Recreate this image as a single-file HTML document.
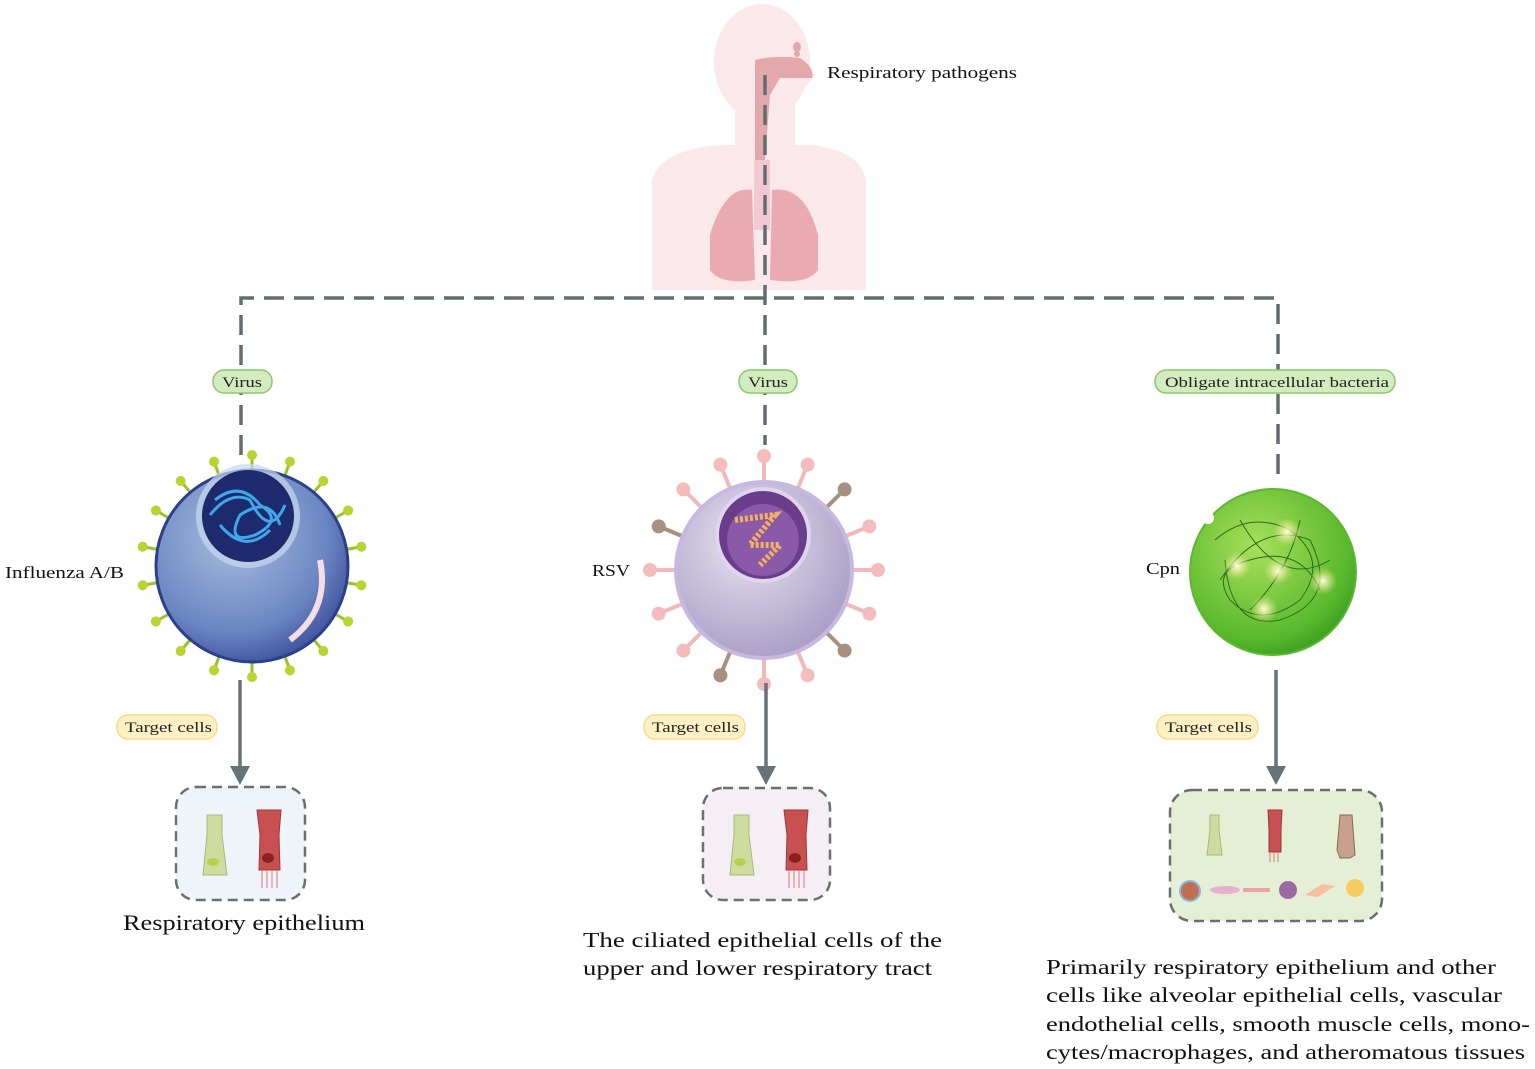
<!DOCTYPE html>
<html><head><meta charset="utf-8"><style>
body{margin:0;background:#fff;}
svg{display:block;font-family:"Liberation Serif",serif;}
</style></head><body>
<svg width="1535" height="1069" viewBox="0 0 1535 1069">
<defs>
<radialGradient id="gb" cx="40%" cy="35%" r="70%"><stop offset="0" stop-color="#a9bde0"/><stop offset="0.7" stop-color="#6b86c2"/><stop offset="1" stop-color="#3b4f9a"/></radialGradient>
<radialGradient id="gp" cx="40%" cy="35%" r="70%"><stop offset="0" stop-color="#e6e2f0"/><stop offset="1" stop-color="#a89cc4"/></radialGradient>
<radialGradient id="gg" cx="40%" cy="35%" r="70%"><stop offset="0" stop-color="#a8e05a"/><stop offset="0.8" stop-color="#58b82c"/><stop offset="1" stop-color="#3a9a20"/></radialGradient>
<radialGradient id="gy"><stop offset="0" stop-color="#fffde0"/><stop offset="1" stop-color="#f2e680" stop-opacity="0"/></radialGradient>
</defs>
<g fill="#fae8ea">
<ellipse cx="762" cy="62" rx="48" ry="58"/>
<rect x="735" y="90" width="60" height="70"/>
<path d="M652 180 Q660 150 720 145 L810 145 Q860 150 866 180 L866 290 L652 290 Z"/>
<path d="M790 55 L815 75 L795 100 L790 110 Z"/>
</g>
<g fill="#e3a8ac">
<path d="M755 60 Q775 55 800 58 Q815 68 812 78 L780 78 L770 95 L765 160 L755 160 Z"/>
<ellipse cx="797" cy="47" rx="4" ry="5"/><ellipse cx="797" cy="54" rx="3" ry="3"/>
<path d="M710 235 Q725 185 752 190 L755 280 Q720 285 710 270 Z" fill="#eaaab2"/>
<path d="M818 235 Q805 185 772 190 L770 280 Q808 285 818 270 Z" fill="#eaaab2"/>
</g>
<rect x="754" y="160" width="16" height="70" fill="#f4c8d0"/>
<text x="827" y="78" font-size="17" fill="#111" textLength="190" lengthAdjust="spacingAndGlyphs">Respiratory pathogens</text>
<g stroke="#5f6e73" stroke-width="3.5" stroke-dasharray="20 10" fill="none">
<path d="M241 455 L241 298 L1278 298 L1278 475"/>
<path d="M765 75 L765 445"/>
</g>
<g stroke="#8cc66b" stroke-width="1.5" fill="#d3ecbf">
<rect x="213" y="370" width="59" height="23" rx="11"/>
<rect x="739" y="370" width="58" height="23" rx="11"/>
<rect x="1155" y="370" width="240" height="23" rx="11"/>
</g>
<g font-size="15" fill="#222">
<text x="222" y="387" textLength="40" lengthAdjust="spacingAndGlyphs">Virus</text><text x="748" y="387" textLength="40" lengthAdjust="spacingAndGlyphs">Virus</text><text x="1165" y="387" textLength="224" lengthAdjust="spacingAndGlyphs">Obligate intracellular bacteria</text>
</g>
<g stroke="#9bc22a" stroke-width="3" fill="#b8d430">
<g id="sp">
<line x1="252" y1="566" x2="252" y2="455"/><circle cx="252" cy="455" r="5" stroke="none"/>
</g>
<use href="#sp" transform="rotate(20 252 566)"/><use href="#sp" transform="rotate(40 252 566)"/><use href="#sp" transform="rotate(60 252 566)"/><use href="#sp" transform="rotate(80 252 566)"/><use href="#sp" transform="rotate(100 252 566)"/><use href="#sp" transform="rotate(120 252 566)"/><use href="#sp" transform="rotate(140 252 566)"/><use href="#sp" transform="rotate(160 252 566)"/><use href="#sp" transform="rotate(180 252 566)"/><use href="#sp" transform="rotate(200 252 566)"/><use href="#sp" transform="rotate(220 252 566)"/><use href="#sp" transform="rotate(240 252 566)"/><use href="#sp" transform="rotate(260 252 566)"/><use href="#sp" transform="rotate(280 252 566)"/><use href="#sp" transform="rotate(300 252 566)"/><use href="#sp" transform="rotate(320 252 566)"/><use href="#sp" transform="rotate(340 252 566)"/>
</g>
<circle cx="252" cy="566" r="96" fill="url(#gb)" stroke="#2c3f8a" stroke-width="3"/>
<circle cx="248" cy="516" r="52" fill="#c9d8ec" opacity="0.7"/>
<circle cx="248" cy="516" r="46" fill="#1e2a6e"/>
<path d="M215 500 Q240 480 260 505 Q285 520 255 535 Q225 545 240 515 Q270 495 280 525 M220 525 Q245 555 270 530 M210 515 Q230 490 250 500 Q270 540 285 505" stroke="#3fa8e8" stroke-width="3" fill="none"/>
<path d="M320 560 Q330 610 290 640" stroke="#f6dce4" stroke-width="6" fill="none"/>
<text x="5" y="578" font-size="17" fill="#111" textLength="119" lengthAdjust="spacingAndGlyphs">Influenza A/B</text>
<g stroke="#f0b8b8" stroke-width="4" fill="#f4bcbc">
<g id="rp"><line x1="764" y1="570" x2="764" y2="458"/><circle cx="764" cy="456" r="7" stroke="none"/></g>
<use href="#rp" transform="rotate(22.5 764 570)"/><use href="#rp" transform="rotate(45 764 570)" style="fill:#a89080;stroke:#a89080"/><use href="#rp" transform="rotate(67.5 764 570)"/><use href="#rp" transform="rotate(90 764 570)"/><use href="#rp" transform="rotate(112.5 764 570)"/><use href="#rp" transform="rotate(135 764 570)" style="fill:#a89080;stroke:#a89080"/><use href="#rp" transform="rotate(157.5 764 570)"/><use href="#rp" transform="rotate(180 764 570)"/><use href="#rp" transform="rotate(202.5 764 570)" style="fill:#a89080;stroke:#a89080"/><use href="#rp" transform="rotate(225 764 570)"/><use href="#rp" transform="rotate(247.5 764 570)"/><use href="#rp" transform="rotate(270 764 570)"/><use href="#rp" transform="rotate(292.5 764 570)" style="fill:#a89080;stroke:#a89080"/><use href="#rp" transform="rotate(315 764 570)"/><use href="#rp" transform="rotate(337.5 764 570)"/>
</g>
<circle cx="764" cy="570" r="88" fill="url(#gp)" stroke="#c6b8e0" stroke-width="4"/>
<circle cx="763" cy="535" r="46" fill="#6a3d8c" stroke="#e0d4ee" stroke-width="4"/>
<circle cx="763" cy="540" r="36" fill="#8a5aa8"/>
<path d="M735 520 L775 515 L750 545 L780 545 L760 565" stroke="#f4b060" stroke-width="6" fill="none" stroke-dasharray="3 2"/>
<text x="592" y="576" font-size="17" fill="#111" textLength="38" lengthAdjust="spacingAndGlyphs">RSV</text>
<circle cx="1273" cy="572" r="83" fill="url(#gg)" stroke="#5cb832" stroke-width="2"/>
<path d="M1215 540 Q1250 510 1290 530 Q1330 560 1300 600 Q1260 630 1230 600 Q1210 570 1250 560 Q1300 545 1320 590 M1240 520 Q1280 590 1330 560 M1220 580 Q1260 520 1310 540 Q1340 600 1280 620 Q1230 630 1225 560 M1250 610 Q1290 570 1300 520" stroke="#2f6a20" stroke-width="1" fill="none"/>
<circle cx="1208" cy="518" r="6" fill="#fff"/>
<circle cx="1287" cy="532" r="14" fill="url(#gy)"/><circle cx="1237" cy="566" r="14" fill="url(#gy)"/><circle cx="1278" cy="571" r="14" fill="url(#gy)"/><circle cx="1323" cy="581" r="14" fill="url(#gy)"/><circle cx="1264" cy="609" r="14" fill="url(#gy)"/>
<text x="1146" y="574" font-size="17" fill="#111" textLength="34" lengthAdjust="spacingAndGlyphs">Cpn</text>
<g stroke="#667379" stroke-width="3.5"><line x1="240" y1="680" x2="240" y2="772"/><line x1="766" y1="683" x2="766" y2="772"/><line x1="1276" y1="670" x2="1276" y2="772"/></g>
<g fill="#667379"><path d="M230 766 L250 766 L240 785Z"/><path d="M756 766 L776 766 L766 785Z"/><path d="M1266 766 L1286 766 L1276 785Z"/></g>
<g stroke="#f3dc8a" stroke-width="1.5" fill="#fdf1c4">
<rect x="117" y="715" width="100" height="24" rx="11"/><rect x="644" y="715" width="101" height="24" rx="11"/><rect x="1157" y="715" width="101" height="24" rx="11"/>
</g>
<g font-size="15" fill="#222"><text x="125" y="732" textLength="87" lengthAdjust="spacingAndGlyphs">Target cells</text><text x="652" y="732" textLength="87" lengthAdjust="spacingAndGlyphs">Target cells</text><text x="1165" y="732" textLength="87" lengthAdjust="spacingAndGlyphs">Target cells</text></g>
<g stroke="#6b6f70" stroke-width="2.5" stroke-dasharray="10 6">
<rect x="176" y="787" width="129" height="113" rx="20" fill="#eef4fa"/>
<rect x="703" y="788" width="127" height="112" rx="20" fill="#f6eef5"/>
<rect x="1170" y="790" width="212" height="131" rx="22" fill="#e4efd5"/>
</g>
<g id="cells">
<path d="M207 815 L222 815 L222 835 L227 875 L203 875 L207 835Z" fill="#cfdca0" stroke="#a8b878"/>
<ellipse cx="213" cy="862" rx="6" ry="4" fill="#b8d050"/>
<path d="M257 810 L281 810 L279 835 L280 870 L259 870 L260 835Z" fill="#c85050" stroke="#a03838"/>
<ellipse cx="268" cy="858" rx="6" ry="5" fill="#8a2020"/>
<path d="M262 870 L262 888 M267 870 L267 888 M272 870 L272 888 M277 870 L277 888" stroke="#d87878"/>
</g>
<use href="#cells" transform="translate(527 0)"/>
<path d="M1210 815 L1219 815 L1219 830 L1222 855 L1207 855 L1210 830Z" fill="#cfdca0" stroke="#a8b878"/>
<path d="M1268 810 L1282 810 L1281 830 L1281 852 L1269 852 L1269 830Z" fill="#c85050" stroke="#a03838"/>
<path d="M1270 852 L1270 862 M1274 852 L1274 862 M1278 852 L1278 862" stroke="#d87878"/>
<path d="M1340 815 L1352 815 L1355 855 L1350 858 L1340 858 L1337 850Z" fill="#c8a090" stroke="#8a6a5a"/>
<circle cx="1190" cy="891" r="10" fill="#c07050" stroke="#8ab8e0" stroke-width="2"/>
<ellipse cx="1225" cy="890" rx="15" ry="4" fill="#e8b0d0"/>
<rect x="1243" y="888" width="27" height="4" fill="#f0a0a0"/>
<circle cx="1288" cy="890" r="9" fill="#9a6aa0"/>
<path d="M1305 895 L1322 884 L1335 886 L1318 897Z" fill="#f6c0a0"/>
<circle cx="1355" cy="888" r="9" fill="#f6cc60"/>
<text x="123" y="930" font-size="22" fill="#111" textLength="242" lengthAdjust="spacingAndGlyphs">Respiratory epithelium</text>
<g font-size="21" fill="#111">
<text x="583" y="947" textLength="359" lengthAdjust="spacingAndGlyphs">The ciliated epithelial cells of the</text>
<text x="583" y="975" textLength="349" lengthAdjust="spacingAndGlyphs">upper and lower respiratory tract</text>
<text x="1046" y="974" textLength="450" lengthAdjust="spacingAndGlyphs">Primarily respiratory epithelium and other</text>
<text x="1046" y="1002" textLength="456" lengthAdjust="spacingAndGlyphs">cells like alveolar epithelial cells, vascular</text>
<text x="1046" y="1031" textLength="484" lengthAdjust="spacingAndGlyphs">endothelial cells, smooth muscle cells, mono-</text>
<text x="1046" y="1059" textLength="479" lengthAdjust="spacingAndGlyphs">cytes/macrophages, and atheromatous tissues</text>
</g>
</svg>
</body></html>
